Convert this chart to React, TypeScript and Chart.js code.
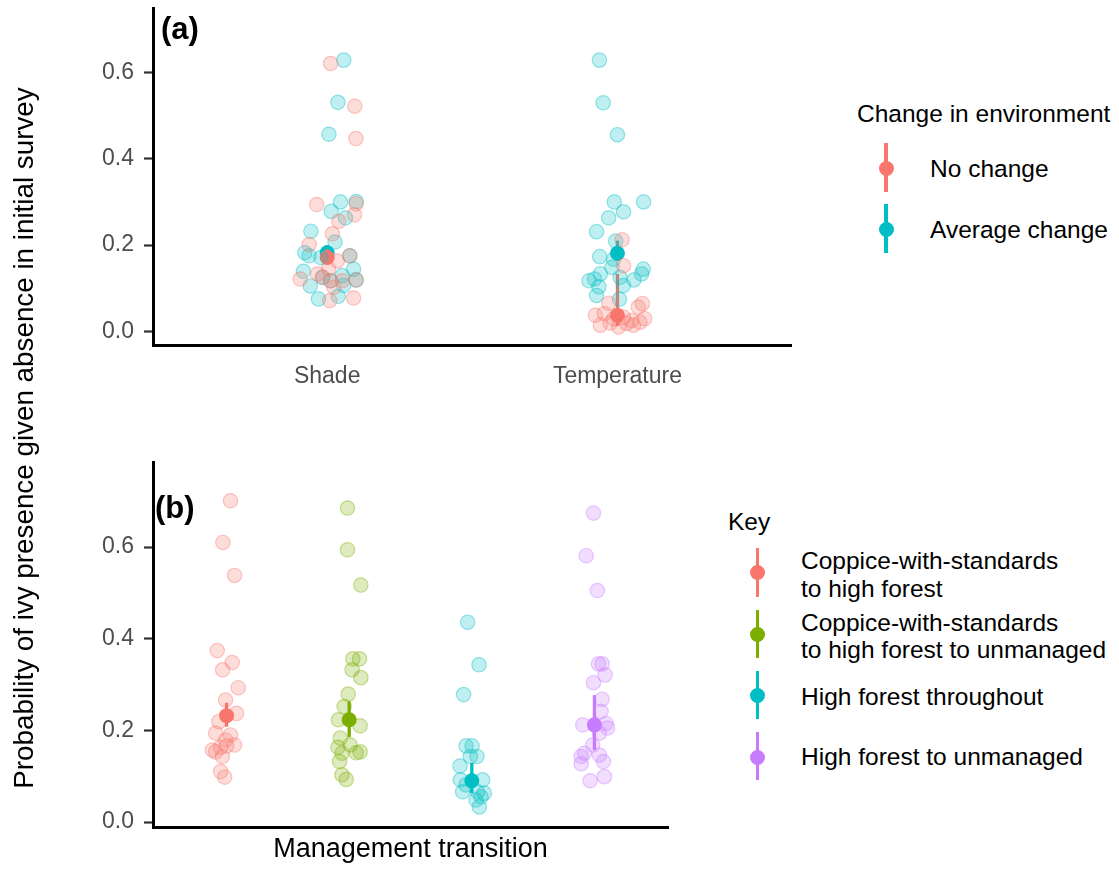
import React, { useEffect, useRef } from "react";
import { Chart, registerables } from "chart.js";

Chart.register(...registerables);

// ---------- Panel (a) data ----------
const envCategories = ["Shade", "Temperature"];
const envGroups = ["No change", "Average change"];
const yTicks = [0, 0.2, 0.4, 0.6];

// jitter offsets (category units) and values
const noChangeShadeJitter = [0.012, 0.095, 0.099, -0.036, 0.1, 0.094, 0.04, 0.018, -0.062, 0.078, 0.035, -0.093, -0.033, -0.016, 0.012, 0.1, 0.052, 0.023, 0.009, 0.091, 0.005];
const noChangeShadeValues = [0.621, 0.522, 0.447, 0.294, 0.296, 0.27, 0.255, 0.226, 0.201, 0.175, 0.163, 0.121, 0.133, 0.125, 0.117, 0.119, 0.117, 0.102, 0.071, 0.077, 0.145];
const avgChangeShadeJitter = [0.057, 0.037, 0.006, 0.046, 0.1, 0.014, 0.063, -0.056, 0.027, -0.077, -0.062, -0.022, 0.078, -0.082, 0.091, -0.016, 0.012, 0.052, 0.1, -0.058, 0.057, -0.03, 0.038];
const avgChangeShadeValues = [0.629, 0.531, 0.457, 0.3, 0.301, 0.278, 0.263, 0.232, 0.207, 0.182, 0.175, 0.171, 0.175, 0.139, 0.144, 0.125, 0.117, 0.129, 0.119, 0.105, 0.106, 0.075, 0.081];
const noChangeTempJitter = [0.016, 0.021, -0.03, 0.086, 0.072, -0.076, -0.045, -0.013, 0.021, 0.049, 0.094, -0.059, -0.025, 0.004, 0.055, 0.078, 0.032];
const noChangeTempValues = [0.212, 0.152, 0.065, 0.064, 0.056, 0.037, 0.041, 0.029, 0.032, 0.025, 0.029, 0.014, 0.019, 0.01, 0.014, 0.021, 0.018];
const avgChangeTempJitter = [-0.062, -0.049, 0, -0.011, 0.09, 0.021, -0.03, -0.072, -0.006, -0.061, -0.013, 0.089, -0.019, -0.059, -0.098, -0.079, 0.009, 0.057, 0.083, -0.064, 0.021, -0.072, 0.007];
const avgChangeTempValues = [0.629, 0.53, 0.456, 0.3, 0.3, 0.277, 0.263, 0.231, 0.209, 0.173, 0.167, 0.144, 0.148, 0.133, 0.117, 0.121, 0.125, 0.119, 0.133, 0.103, 0.106, 0.083, 0.074];

const noChangeMean = [0.171, 0.037];
const noChangeLow = [0.155, 0.012];
const noChangeHigh = [0.19, 0.133];
const avgChangeMean = [0.182, 0.181];
const avgChangeLow = [0.165, 0.163];
const avgChangeHigh = [0.2, 0.21];

// ---------- Panel (b) data ----------
const transitions = [
  ["Coppice-with-standards", "to high forest"],
  ["Coppice-with-standards", "to high forest to unmanaged"],
  ["High forest throughout"],
  ["High forest to unmanaged"],
];
const cwsHfJitter = [0.032, -0.03, 0.065, -0.076, 0.046, -0.032, 0.095, -0.008, 0.081, -0.062, -0.089, 0.032, -0.008, 0.065, -0.116, -0.049, -0.089, 0, -0.035, -0.049, -0.016];
const cwsHfValues = [0.701, 0.61, 0.538, 0.374, 0.348, 0.332, 0.293, 0.266, 0.237, 0.219, 0.194, 0.19, 0.179, 0.168, 0.157, 0.163, 0.153, 0.166, 0.143, 0.11, 0.098];
const cwsHfUnJitter = [-0.014, -0.014, 0.095, 0.03, 0.084, 0.024, 0.095, -0.008, -0.041, -0.087, 0.089, -0.073, -0.092, 0.008, 0.057, 0.089, -0.059, -0.079, -0.059, -0.024];
const cwsHfUnValues = [0.685, 0.594, 0.517, 0.356, 0.356, 0.332, 0.315, 0.279, 0.252, 0.223, 0.21, 0.183, 0.163, 0.168, 0.151, 0.153, 0.15, 0.132, 0.103, 0.093];
const hfThroughJitter = [-0.034, 0.059, -0.067, -0.047, 0.002, 0.042, -0.096, -0.012, -0.093, 0.088, -0.075, 0.047, 0.075, 0.034, 0.061, -0.047, 0.102];
const hfThroughValues = [0.436, 0.343, 0.278, 0.166, 0.166, 0.143, 0.122, 0.143, 0.092, 0.092, 0.066, 0.066, 0.055, 0.048, 0.033, 0.081, 0.063];
const hfUnJitter = [-0.008, -0.067, 0.024, 0.033, 0.063, 0.087, -0.008, 0.063, 0.054, -0.095, 0.095, 0.108, 0.041, -0.014, -0.081, -0.108, 0.041, 0.073, -0.108, -0.035, 0.081];
const hfUnValues = [0.674, 0.581, 0.505, 0.345, 0.345, 0.321, 0.304, 0.268, 0.241, 0.212, 0.215, 0.205, 0.194, 0.168, 0.15, 0.143, 0.146, 0.132, 0.127, 0.09, 0.099];

const transitionMean = [0.232, 0.223, 0.09, 0.212];
const transitionLow = [0.208, 0.185, 0.063, 0.157];
const transitionHigh = [0.26, 0.263, 0.129, 0.277];

// ---------- styles ----------
const RED = "#F8766D";
const TEAL = "#00BFC4";
const GREEN = "#7CAE00";
const PURPLE = "#C77CFF";
const FONT = '"Liberation Sans", Arial, Helvetica, sans-serif';

function rgba(hex: string, a: number) {
  const n = parseInt(hex.slice(1), 16);
  return `rgba(${(n >> 16) & 255},${(n >> 8) & 255},${n & 255},${a})`;
}

function jitterPoints(cat: number, jit: number[], vals: number[]) {
  return vals.map((v, i) => ({ x: cat + jit[i], y: v }));
}

function pointsDataset(data: any[], color: string) {
  return {
    type: "scatter",
    data,
    pointRadius: 7.2,
    pointBackgroundColor: rgba(color, 0.25),
    pointBorderColor: rgba(color, 0.4),
    pointBorderWidth: 1.2,
    showLine: false,
  };
}

function meanDataset(means: number[], low: number[], high: number[], color: string, cats?: number[]) {
  return {
    type: "scatter",
    data: means.map((m, i) => ({ x: cats ? cats[i] : i + 1, y: m })),
    pointRadius: 7.5,
    pointBackgroundColor: color,
    pointBorderColor: color,
    pointBorderWidth: 0,
    showLine: false,
    errLow: low,
    errHigh: high,
    errColor: color,
  };
}

const errorBarPlugin = {
  id: "errorBars",
  beforeDatasetDraw(chart: any, args: any) {
    const ds = chart.data.datasets[args.index];
    if (!ds.errLow) return;
    const { ctx } = chart;
    const xs = chart.scales.x;
    const ys = chart.scales.y;
    ctx.save();
    ctx.strokeStyle = ds.errColor;
    ctx.lineWidth = 3.3;
    ds.data.forEach((p: any, i: number) => {
      const px = xs.getPixelForValue(p.x);
      ctx.beginPath();
      ctx.moveTo(px, ys.getPixelForValue(ds.errLow[i]));
      ctx.lineTo(px, ys.getPixelForValue(ds.errHigh[i]));
      ctx.stroke();
    });
    ctx.restore();
  },
};

function yScale(min: number, max: number) {
  return {
    type: "linear",
    min,
    max,
    afterBuildTicks: (s: any) => {
      s.ticks = yTicks.map((v) => ({ value: v }));
    },
    afterFit: (s: any) => {
      s.width = 153;
      s.paddingTop = 0;
      s.paddingBottom = 0;
    },
    ticks: {
      callback: (v: any) => Number(v).toFixed(1),
      color: "#4d4d4d",
      font: { family: FONT, size: 23 },
      padding: 10,
    },
    grid: {
      display: true,
      drawOnChartArea: false,
      drawTicks: true,
      tickLength: 9,
      tickWidth: 2.2,
      tickColor: "#333333",
    },
    border: { display: true, color: "#000000", width: 3 },
  };
}

function PanelA() {
  const ref = useRef<HTMLCanvasElement | null>(null);
  useEffect(() => {
    if (!ref.current) return;
    const chart = new Chart(ref.current, {
      type: "scatter",
      data: {
        datasets: [
          pointsDataset([...jitterPoints(1, noChangeShadeJitter, noChangeShadeValues), ...jitterPoints(2, noChangeTempJitter, noChangeTempValues)], RED),
          pointsDataset([...jitterPoints(1, avgChangeShadeJitter, avgChangeShadeValues), ...jitterPoints(2, avgChangeTempJitter, avgChangeTempValues)], TEAL),
          meanDataset(noChangeMean, noChangeLow, noChangeHigh, RED),
          meanDataset(avgChangeMean, avgChangeLow, avgChangeHigh, TEAL),
        ] as any,
      },
      options: {
        responsive: false,
        animation: false,
        events: [],
        layout: { padding: { left: 0, right: 3, top: 5, bottom: 0 } },
        plugins: { legend: { display: false }, tooltip: { enabled: false } },
        scales: {
          x: {
            type: "linear",
            min: 0.4,
            max: envCategories.length + 0.6,
            afterBuildTicks: (s: any) => {
              s.ticks = envCategories.map((_, i) => ({ value: i + 1 }));
            },
            afterFit: (s: any) => {
              s.height = 55;
              s.paddingLeft = 0;
              s.paddingRight = 0;
            },
            ticks: {
              callback: (_v: any, i: number) => envCategories[i],
              color: "#4d4d4d",
              font: { family: FONT, size: 23 },
              padding: 18,
              maxRotation: 0,
            },
            grid: { display: false, drawTicks: false },
            border: { display: true, color: "#000000", width: 3 },
          },
          y: yScale(-0.032, 0.749),
        } as any,
      },
      plugins: [errorBarPlugin],
    });
    return () => chart.destroy();
  }, []);
  return <canvas ref={ref} width={800} height={400} style={{ position: "absolute", left: 0, top: 0 }} />;
}

function PanelB() {
  const ref = useRef<HTMLCanvasElement | null>(null);
  useEffect(() => {
    if (!ref.current) return;
    const cats = transitions.map((_, i) => i + 1);
    const chart = new Chart(ref.current, {
      type: "scatter",
      data: {
        datasets: [
          pointsDataset(jitterPoints(1, cwsHfJitter, cwsHfValues), RED),
          pointsDataset(jitterPoints(2, cwsHfUnJitter, cwsHfUnValues), GREEN),
          pointsDataset(jitterPoints(3, hfThroughJitter, hfThroughValues), TEAL),
          pointsDataset(jitterPoints(4, hfUnJitter, hfUnValues), PURPLE),
          meanDataset([transitionMean[0]], [transitionLow[0]], [transitionHigh[0]], RED, [cats[0]]),
          meanDataset([transitionMean[1]], [transitionLow[1]], [transitionHigh[1]], GREEN, [cats[1]]),
          meanDataset([transitionMean[2]], [transitionLow[2]], [transitionHigh[2]], TEAL, [cats[2]]),
          meanDataset([transitionMean[3]], [transitionLow[3]], [transitionHigh[3]], PURPLE, [cats[3]]),
        ] as any,
      },
      options: {
        responsive: false,
        animation: false,
        events: [],
        layout: { padding: { left: 0, right: 32, top: 12, bottom: 0 } },
        plugins: { legend: { display: false }, tooltip: { enabled: false } },
        scales: {
          x: {
            type: "linear",
            min: 0.4,
            max: transitions.length + 0.6,
            afterFit: (s: any) => {
              s.height = 54;
              s.paddingLeft = 0;
              s.paddingRight = 0;
            },
            ticks: { display: false },
            grid: { display: false, drawTicks: false },
            border: { display: true, color: "#000000", width: 3 },
            title: {
              display: true,
              text: "Management transition",
              color: "#000000",
              font: { family: FONT, size: 27 },
              padding: { top: 0, bottom: 15 },
            },
          },
          y: yScale(-0.0109, 0.7855),
        } as any,
      },
      plugins: [errorBarPlugin],
    });
    return () => chart.destroy();
  }, []);
  return <canvas ref={ref} width={700} height={431} style={{ position: "absolute", left: 0, top: 450 }} />;
}

function Text({ x, cy, size, children, bold, lh }: any) {
  const h = lh || Math.round(size * 1.2);
  return (
    <div
      style={{
        position: "absolute",
        left: x,
        top: cy - h / 2,
        height: h,
        lineHeight: `${h}px`,
        fontSize: size,
        fontWeight: bold ? 700 : 400,
        fontFamily: FONT,
        color: "#000",
        whiteSpace: "nowrap",
      }}
    >
      {children}
    </div>
  );
}

function Glyph({ cx, y1, y2, cy, color }: any) {
  return (
    <>
      <div style={{ position: "absolute", left: cx - 1.6, top: y1, width: 3.2, height: y2 - y1, background: color }} />
      <div style={{ position: "absolute", left: cx - 7.5, top: cy - 7.5, width: 15, height: 15, borderRadius: "50%", background: color }} />
    </>
  );
}

export default function App() {
  const legendAColors = [RED, TEAL];
  const legendBColors = [RED, GREEN, TEAL, PURPLE];
  const legendBGlyph = [
    [548, 597, 572.5],
    [610, 658, 634],
    [671, 719, 695],
    [732, 780, 757],
  ];
  const legendBText = [[561, 589], [623, 650], [697], [757]];
  return (
    <div style={{ position: "absolute", left: 0, top: 0, width: 1119, height: 881, background: "#fff", overflow: "hidden" }}>
      <PanelA />
      <PanelB />
      <div
        style={{
          position: "absolute",
          left: 24 - 400,
          top: 438 - 16,
          width: 800,
          height: 32,
          lineHeight: "32px",
          textAlign: "center",
          fontFamily: FONT,
          fontSize: 27.8,
          color: "#000",
          transform: "rotate(-90deg)",
          whiteSpace: "nowrap",
        }}
      >
        Probability of ivy presence given absence in initial survey
      </div>
      <Text x={161} cy={28} size={31} bold>(a)</Text>
      <Text x={155} cy={507} size={31} bold>(b)</Text>

      <Text x={857} cy={113} size={24.5}>Change in environment</Text>
      {envGroups.map((g, i) => (
        <React.Fragment key={g}>
          <Glyph cx={886} y1={143 + i * 61} y2={192 + i * 61} cy={168 + i * 61} color={legendAColors[i]} />
          <Text x={930} cy={168 + i * 61} size={24.5}>{g}</Text>
        </React.Fragment>
      ))}

      <Text x={728} cy={521} size={24.5}>Key</Text>
      {transitions.map((lines, i) => (
        <React.Fragment key={i}>
          <Glyph cx={757.5} y1={legendBGlyph[i][0]} y2={legendBGlyph[i][1]} cy={legendBGlyph[i][2]} color={legendBColors[i]} />
          {lines.map((ln, j) => (
            <Text key={j} x={801} cy={legendBText[i][j]} size={24.5} lh={28}>{ln}</Text>
          ))}
        </React.Fragment>
      ))}
    </div>
  );
}
